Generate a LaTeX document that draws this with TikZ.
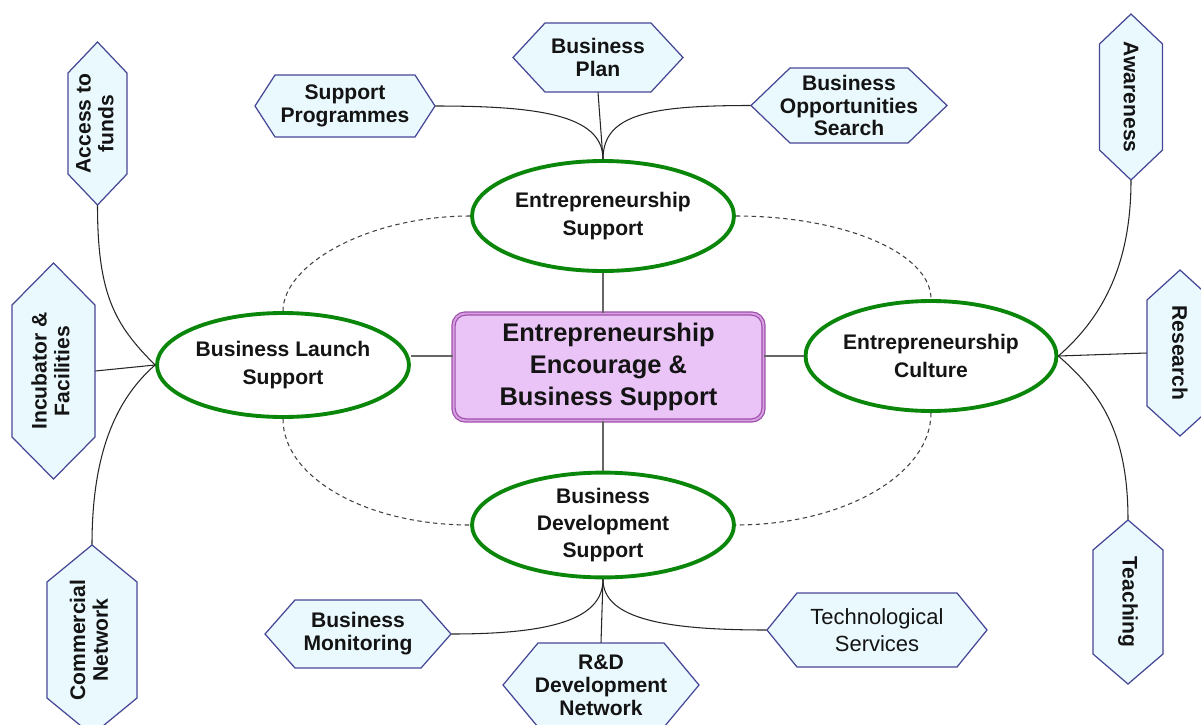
\documentclass[tikz,border=0pt]{standalone}
\usepackage{fontspec}
\setmainfont{Liberation Sans}
\usepackage{graphicx}
\usetikzlibrary{shapes.geometric}
\definecolor{ellgreen}{RGB}{10,135,10}
\definecolor{hexfill}{RGB}{234,249,254}
\definecolor{hexdraw}{RGB}{70,70,150}
\definecolor{crfill}{RGB}{234,196,247}
\definecolor{crdark}{RGB}{160,80,172}
\definecolor{crlight}{RGB}{215,160,225}
\definecolor{txt}{RGB}{20,20,20}
\tikzset{
  hexline/.style={fill=hexfill, draw=hexdraw, line width=0.7pt, line join=miter},
  hextext/.style={shape=rectangle, inner sep=0pt, align=center, text=txt,
    font=\fontsize{12}{13}\selectfont\bfseries},
  ell/.style={shape=ellipse, draw=ellgreen, line width=2.2pt, fill=white, inner sep=0pt,
    align=center, text=txt, font=\fontsize{12}{15.5}\selectfont\bfseries},
  conn/.style={draw=black!85, line width=0.6pt},
  hubline/.style={draw=black!60, line width=0.6pt},
  dashedarc/.style={draw=black!75, line width=0.6pt, dashed, dash pattern=on 2.5pt off 2pt},
}
\newcommand\hexh[8][]{%
  \filldraw[hexline] ({#3-#5},#4) -- ({#3-#5+#7},{#4-#6}) -- ({#3+#5-#7},{#4-#6}) -- ({#3+#5},#4)
    -- ({#3+#5-#7},{#4+#6}) -- ({#3-#5+#7},{#4+#6}) -- cycle;
  \node[hextext, minimum width={#5*0.04cm}, minimum height={#6*0.04cm}, #1] (#2) at (#3,#4) {#8};}
\newcommand\hexv[8][]{%
  \filldraw[hexline] (#3,{#4-#6}) -- ({#3+#5},{#4-#6+#7}) -- ({#3+#5},{#4+#6-#7}) -- (#3,{#4+#6})
    -- ({#3-#5},{#4+#6-#7}) -- ({#3-#5},{#4-#6+#7}) -- cycle;
  \node[hextext, minimum width={#5*0.04cm}, minimum height={#6*0.04cm}, #1] (#2) at (#3,#4) {#8};}
\begin{document}
\begin{tikzpicture}[x=0.02cm, y=-0.02cm]
\useasboundingbox (0,0) rectangle (1201,724);

% central box
\node[shape=rectangle, rounded corners=0.24cm, fill=crfill, draw=crdark, line width=0.7pt,
      double=crlight, double distance=1.1pt, minimum width=6.2cm, minimum height=2.14cm,
      align=center, text=txt, font=\fontsize{14.5}{18}\selectfont\bfseries] (cr) at (608.5,367)
      {Entrepreneurship\\Encourage \&\\Business Support};

% ellipses
\node[ell, minimum width=5.24cm, minimum height=2.2cm] (ts) at (603,216) {Entrepreneurship\\Support};
\node[ell, minimum width=5.04cm, minimum height=2.08cm] (ls) at (283,365) {Business Launch\\Support};
\node[ell, minimum width=5.02cm, minimum height=2.2cm] (rs) at (931,356) {Entrepreneurship\\Culture};
\node[ell, minimum width=5.24cm, minimum height=2.04cm] (bs) at (603,525) {Business\\Development\\Support};

% dashed arcs
\draw[dashedarc] (ts.west) .. controls +(-101,0) and +(0,-47) .. (ls.north);
\draw[dashedarc] (ts.east) .. controls +(108,0) and +(0,-46) .. (rs.north);
\draw[dashedarc] (ls.south) .. controls +(0,59) and +(-103,0) .. (bs.west);
\draw[dashedarc] (rs.south) .. controls +(0,62) and +(107,0) .. (bs.east);

% hub lines to centre
\draw[hubline] (ts.south) -- (ts.south |- cr.north);
\draw[hubline] (bs.north) -- (bs.north |- cr.south);
\draw[hubline] (ls.east |- rs.west) -- (cr.west |- rs.west);
\draw[hubline] (rs.west) -- (cr.east |- rs.west);

% hexagons
\hexh{sp}{345}{106}{90}{31}{20}{Support\\Programmes}
\hexh{bp}{598}{57.5}{85}{34.5}{32}{Business\\Plan}
\hexh{bos}{849}{105.5}{98}{37.5}{39}{Business\\Opportunities\\Search}
\hexv{af}{97.5}{123.5}{29.5}{81.5}{31}{\rotatebox{90}{\begin{tabular}{@{}c@{}}Access to\\funds\end{tabular}}}
\hexv{inc}{53.5}{371}{41.5}{108}{42}{\rotatebox{90}{\begin{tabular}{@{}c@{}}Incubator \&\\Facilities\end{tabular}}}
\hexv{cn}{92}{640}{45}{95}{37}{\rotatebox{90}{\begin{tabular}{@{}c@{}}Commercial\\Network\end{tabular}}}
\hexv{aw}{1131}{97}{31.5}{83}{30}{\rotatebox{-90}{Awareness}}
\hexv{re}{1180}{353}{33}{83}{30}{\rotatebox{-90}{Research}}
\hexv{te}{1128}{602}{35}{82}{30}{\rotatebox{-90}{Teaching}}
\hexh{bm}{358}{634}{93}{34}{30}{Business\\Monitoring}
\hexh{rd}{601}{685}{98}{42}{35}{R\&D\\Development\\Network}
\hexh[font=\fontsize{12.5}{15}\selectfont]{tsv}{877}{630}{110}{37}{30}{Technological\\Services}

% connectors: top
\draw[conn] (ts.north) .. controls +(0,-45) and +(100,0) .. (sp.east);
\draw[conn] (ts.north) -- (bp.south);
\draw[conn] (ts.north) .. controls +(0,-45) and +(-100,0) .. (bos.west);
% left
\draw[conn] (ls.west) .. controls +(-40,-40) and +(0,90) .. (af.south);
\draw[conn] (ls.west) -- (inc.east);
\draw[conn] (ls.west) .. controls +(-40,35) and +(0,-90) .. (cn.north);
% right
\draw[conn] (rs.east) .. controls +(40,-35) and +(0,90) .. (aw.south);
\draw[conn] (rs.east) -- (re.west);
\draw[conn] (rs.east) .. controls +(40,35) and +(0,-90) .. (te.north);
% bottom
\draw[conn] (bs.south) .. controls +(0,40) and +(100,0) .. (bm.east);
\draw[conn] (bs.south) -- (rd.north);
\draw[conn] (bs.south) .. controls +(0,40) and +(-100,0) .. (tsv.west);
\end{tikzpicture}
\end{document}
